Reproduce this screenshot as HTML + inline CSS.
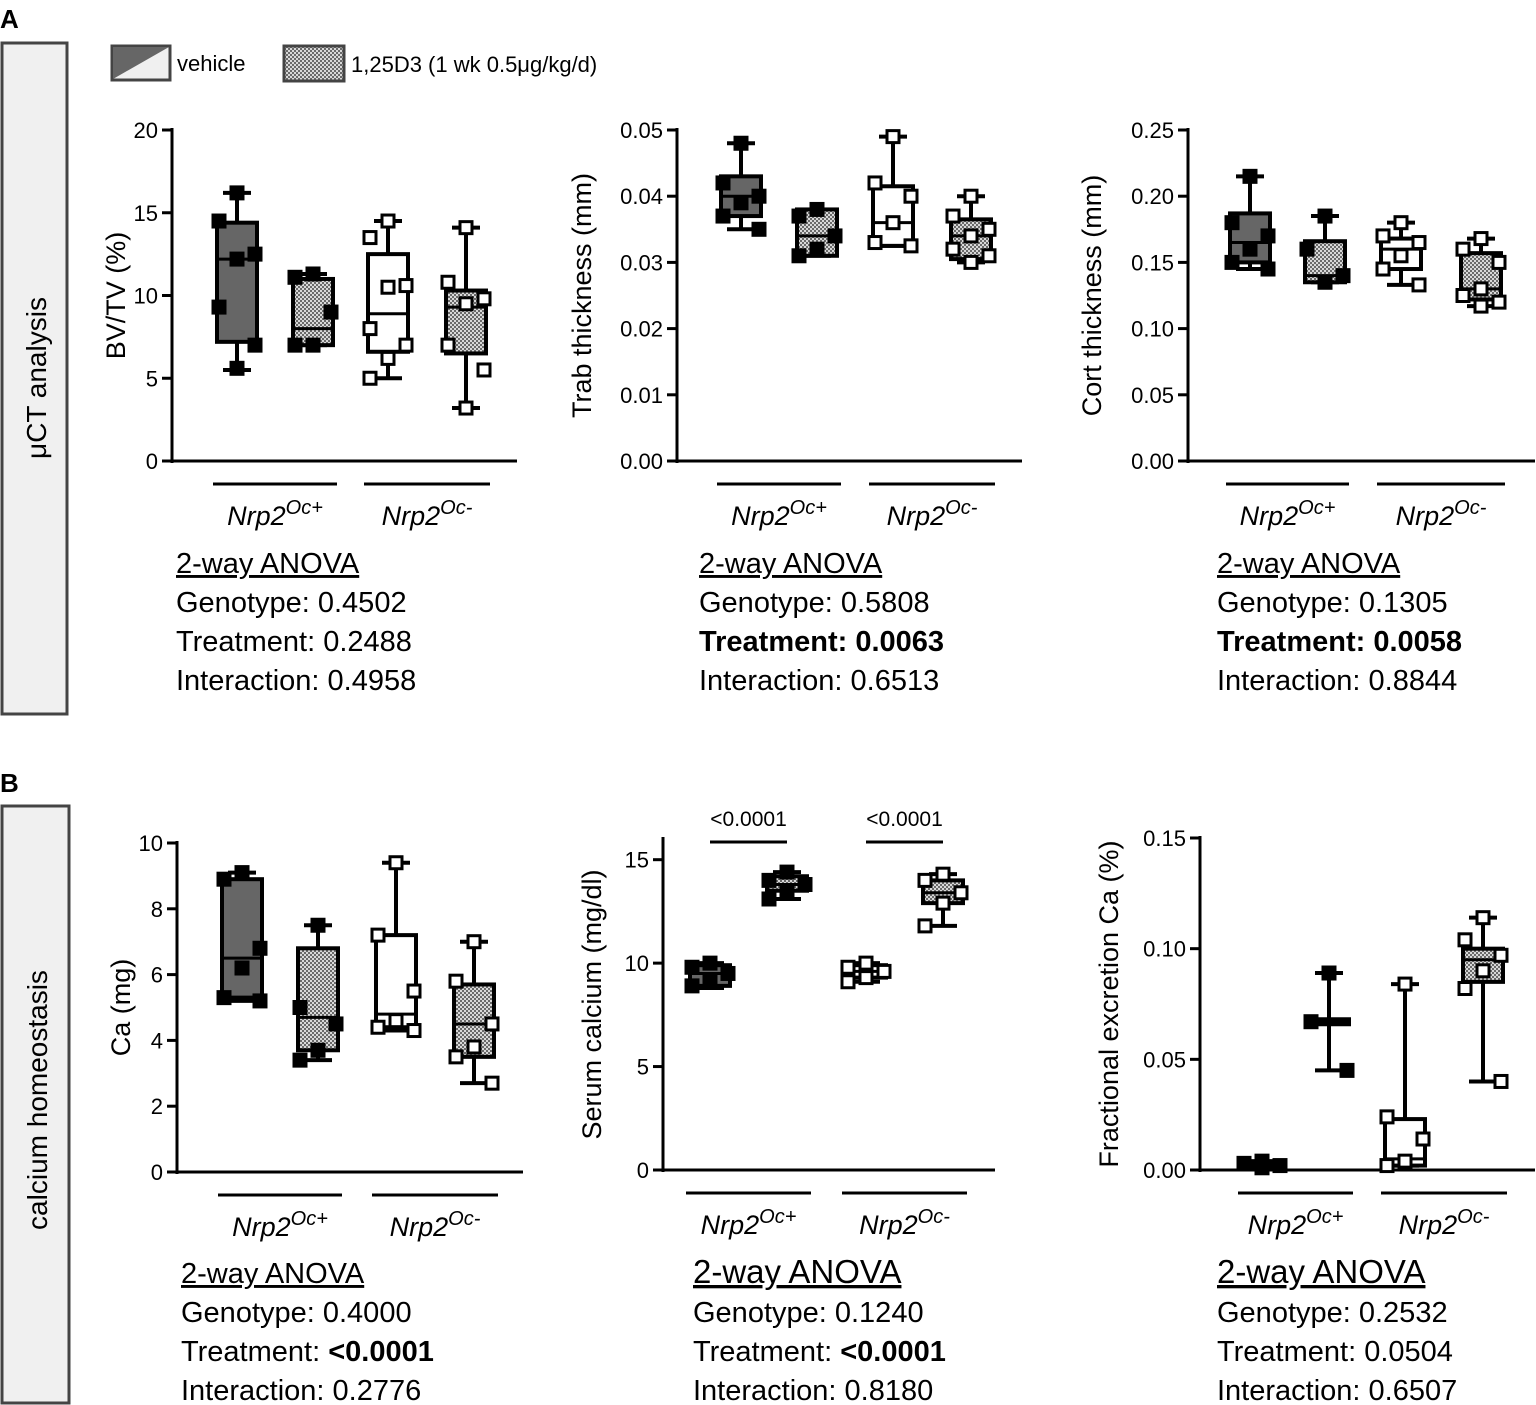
<!DOCTYPE html>
<html><head><meta charset="utf-8"><style>
html,body{margin:0;padding:0;background:#fff;}
svg{display:block;font-family:"Liberation Sans",sans-serif;}
</style></head><body>
<svg id="fig" width="1536" height="1405" viewBox="0 0 1536 1405" xmlns="http://www.w3.org/2000/svg">
<defs>
<pattern id="chk" width="4" height="4" patternUnits="userSpaceOnUse">
<rect width="4" height="4" fill="#d8d8d8"/><rect width="2" height="2" fill="#6a6a6a"/><rect x="2" y="2" width="2" height="2" fill="#6a6a6a"/>
</pattern>
</defs>
<text x="0" y="28" font-size="26" font-weight="bold">A</text>
<text x="0" y="792" font-size="26" font-weight="bold">B</text>
<rect x="2" y="43" width="65" height="671" fill="#f0f0f0" stroke="#444" stroke-width="3"/>
<text transform="translate(46,378) rotate(-90)" text-anchor="middle" font-size="28">μCT analysis</text>
<rect x="2" y="806" width="67" height="597" fill="#f0f0f0" stroke="#444" stroke-width="3"/>
<text transform="translate(47,1100) rotate(-90)" text-anchor="middle" font-size="28">calcium homeostasis</text>
<g>
<rect x="112" y="46" width="58" height="34" fill="#f0f0f0" stroke="#444" stroke-width="3"/>
<polygon points="113,79 113,47 169,47" fill="#666"/>
<text x="177" y="71" font-size="22">vehicle</text>
<rect x="284" y="46" width="60" height="35" fill="url(#chk)" stroke="#444" stroke-width="3"/>
<text x="351" y="72" font-size="22">1,25D3 (1 wk 0.5μg/kg/d)</text>
</g>
</svg>
<script>
// Panel data: [min, q1, median, q3, max] per group (Oc+ veh, Oc+ D3, Oc- veh, Oc- D3)
const groupsA1 = [[5.5,7.2,12.2,14.4,16.2],[7,7,8,11,11.3],[5,6.6,8.9,12.5,14.5],[3.2,6.5,9.3,10.3,14.1]];
const pointsA1 = [[16.2,14.5,12.5,12.2,9.3,7,5.6],[11.3,11.1,9,7,7],[14.5,13.5,10.6,10.5,8,7,6.2,5],[14.1,10.8,9.8,9.5,7,5.5,3.2]];
const ticksA1 = [0,5,10,15,20];
const groupsA2 = [[0.035,0.037,0.040,0.043,0.048],[0.031,0.031,0.034,0.038,0.038],[0.0325,0.0325,0.036,0.0415,0.049],[0.030,0.0305,0.034,0.0365,0.040]];
const pointsA2 = [[0.048,0.042,0.040,0.039,0.037,0.035],[0.038,0.037,0.034,0.032,0.031],[0.049,0.042,0.040,0.036,0.033,0.0325],[0.040,0.037,0.035,0.034,0.032,0.031,0.030]];
const ticksA2 = [0,0.01,0.02,0.03,0.04,0.05];
const groupsA3 = [[0.145,0.15,0.165,0.187,0.215],[0.135,0.135,0.14,0.166,0.185],[0.133,0.145,0.16,0.168,0.18],[0.117,0.122,0.13,0.157,0.168]];
const pointsA3 = [[0.215,0.18,0.17,0.16,0.15,0.145],[0.185,0.16,0.14,0.135],[0.18,0.17,0.165,0.155,0.145,0.133],[0.168,0.16,0.15,0.13,0.125,0.12,0.117]];
const ticksA3 = [0,0.05,0.10,0.15,0.20,0.25];
const groupsB1 = [[5.2,5.3,6.5,8.9,9.1],[3.4,3.7,4.7,6.8,7.5],[4.3,4.4,4.8,7.2,9.4],[2.7,3.5,4.5,5.7,7.0]];
const pointsB1 = [[9.1,8.9,6.8,6.2,5.3,5.2],[7.5,5,4.5,3.7,3.4],[9.4,7.2,5.5,4.6,4.4,4.3],[7.0,5.8,4.5,3.8,3.5,2.7]];
const ticksB1 = [0,2,4,6,8,10];
const groupsB2 = [[8.8,8.9,9.5,9.9,10.0],[13.1,13.5,13.8,14.2,14.4],[9.1,9.3,9.6,9.9,10.0],[11.8,12.9,13.4,14.0,14.3]];
const pointsB2 = [[10,9.8,9.5,9.2,8.9],[14.4,14.0,13.8,13.5,13.1],[10,9.8,9.6,9.3,9.1],[14.3,14.0,13.4,12.9,11.8]];
const ticksB2 = [0,5,10,15];
const groupsB3 = [[0.001,0.001,0.002,0.003,0.004],[0.045,0.067,0.067,0.067,0.089],[0.002,0.002,0.005,0.023,0.084],[0.040,0.085,0.095,0.10,0.114]];
const pointsB3 = [[0.004,0.003,0.002,0.001],[0.089,0.067,0.045],[0.084,0.024,0.014,0.004,0.002],[0.114,0.104,0.097,0.09,0.082,0.040]];
const ticksB3 = [0,0.05,0.10,0.15];
const tickLabelsB3 = ["0.00","0.05","0.10","0.15"];

const NS = "http://www.w3.org/2000/svg";
const svg = document.getElementById('fig');
function mk(tag, attrs, parent){
  const e = document.createElementNS(NS, tag);
  for (const k in attrs) e.setAttribute(k, attrs[k]);
  (parent||svg).appendChild(e);
  return e;
}
function panel(cfg){
  const g = mk('g', {});
  
  
  const y = v => cfg.y0 - (v - 0) / cfg.vmax * (cfg.y0 - cfg.ytop);
  const ya = mk('line', {x1:cfg.ax, y1:cfg.ytop-2, x2:cfg.ax, y2:cfg.y0+2, stroke:'#000','stroke-width':3}, g);
  
  
  const xa = mk('line', {x1:cfg.ax, y1:cfg.y0, x2:cfg.xend, y2:cfg.y0, stroke:'#000','stroke-width':3}, g);
  
  
  cfg.ticks.forEach((t,i)=>{
    mk('line', {x1:cfg.ax-10, y1:y(t), x2:cfg.ax, y2:y(t), stroke:'#000','stroke-width':3}, g);
    const tl = mk('text', {x:cfg.ax-14, y:y(t)+8, 'text-anchor':'end','font-size':22}, g);
    tl.textContent = cfg.tlabels ? cfg.tlabels[i] : String(t);
    
    
  });
  const yt = mk('text', {transform:`translate(${cfg.titleX},${(cfg.ytop+cfg.y0)/2}) rotate(-90)`, 'text-anchor':'middle','font-size':27}, g);
  yt.textContent = cfg.title;
  
  
  cfg.groups.forEach((d,i)=>{
    const cx = cfg.cx[i], w = 20;
    const fill = i===0 ? '#666' : (i===2 ? '#fff' : 'url(#chk)');
    const bg = mk('g', {}, g);
    
    
    mk('line', {x1:cx, y1:y(d[4]), x2:cx, y2:y(d[0]), stroke:'#000','stroke-width':4}, bg);
    mk('line', {x1:cx-14, y1:y(d[4]), x2:cx+14, y2:y(d[4]), stroke:'#000','stroke-width':4}, bg);
    mk('line', {x1:cx-14, y1:y(d[0]), x2:cx+14, y2:y(d[0]), stroke:'#000','stroke-width':4}, bg);
    const bh = Math.max(y(d[1]) - y(d[3]), 0);
    if (bh > 1) mk('rect', {x:cx-w, y:y(d[3]), width:2*w, height:bh, fill:fill, stroke:'#000','stroke-width':4}, bg);
    mk('line', {x1:cx-w-2, y1:y(d[2]), x2:cx+w+2, y2:y(d[2]), stroke:'#000','stroke-width': bh>1 ? 3 : 9}, bg);
    const pts = cfg.points[i];
    pts.forEach((p,j)=>{
      const ox = (j%3===0) ? 0 : (j%3===1 ? -w+2 : w-2);
      const open = i>=2;
      const r = mk('rect', {x:cx+ox-6, y:y(p)-6, width:12, height:12, fill: open ? '#fff' : '#000', stroke:'#000','stroke-width':3}, bg);
      
      
    });
  });
  [[0,1,'+'],[2,3,'-']].forEach(([a,b,s])=>{
    const x1 = cfg.cx[a]-24, x2 = cfg.cx[b]+24;
    mk('line', {x1:x1, y1:cfg.y0+23, x2:x2, y2:cfg.y0+23, stroke:'#000','stroke-width':3}, g);
    const t = mk('text', {x:(x1+x2)/2, y:cfg.y0+64, 'text-anchor':'middle','font-size':27,'font-style':'italic'}, g);
    t.innerHTML = 'Nrp2<tspan dy="-11" font-size="20">Oc'+s+'</tspan>';
    
    
  });
  const at = mk('g', {}, g);
  
  
  cfg.anova.forEach((l,k)=>{
    const t = mk('text', {x:cfg.anX, y:cfg.anY + k*39, 'font-size': (k===0? cfg.hsize : 29)}, at);
    if (k===0){ t.textContent = l; t.setAttribute('text-decoration','underline'); }
    else {
      const parts = l.split('|');
      t.innerHTML = parts[0] + (parts[1] ? '<tspan font-weight="bold">'+parts[1]+'</tspan>' : '');
      if (l.startsWith('*')) { t.innerHTML = parts[0].slice(1) + '<tspan font-weight="bold">'+parts[1]+'</tspan>'; t.setAttribute('font-weight','bold'); }
    }
  });
  return {g, y};
}
panel({name:'chart-bv-tv', ax:172, ytop:130, y0:461, vmax:20, xend:517, ticks:ticksA1, title:'BV/TV (%)', titleX:125,
  cx:[237,313,388,466], groups:groupsA1, points:pointsA1, anX:176, anY:573, hsize:29,
  anova:['2-way ANOVA','Genotype: 0.4502','Treatment: 0.2488','Interaction: 0.4958']});
panel({name:'chart-trab-thickness', ax:677, ytop:130, y0:461, vmax:0.05, xend:1022, ticks:ticksA2, tlabels:['0.00','0.01','0.02','0.03','0.04','0.05'], title:'Trab thickness (mm)', titleX:591,
  cx:[741,817,893,971], groups:groupsA2, points:pointsA2, anX:699, anY:573, hsize:29,
  anova:['2-way ANOVA','Genotype: 0.5808','*Treatment: |0.0063','Interaction: 0.6513']});
panel({name:'chart-cort-thickness', ax:1188, ytop:130, y0:461, vmax:0.25, xend:1535, ticks:ticksA3, tlabels:['0.00','0.05','0.10','0.15','0.20','0.25'], title:'Cort thickness (mm)', titleX:1101,
  cx:[1250,1325,1401,1481], groups:groupsA3, points:pointsA3, anX:1217, anY:573, hsize:29,
  anova:['2-way ANOVA','Genotype: 0.1305','*Treatment: |0.0058','Interaction: 0.8844']});
panel({name:'chart-ca-mg', ax:177, ytop:843, y0:1172, vmax:10, xend:523, ticks:ticksB1, title:'Ca (mg)', titleX:130,
  cx:[242,318,396,474], groups:groupsB1, points:pointsB1, anX:181, anY:1283, hsize:29,
  anova:['2-way ANOVA','Genotype: 0.4000','Treatment: |<0.0001','Interaction: 0.2776']});
const b2 = panel({name:'chart-serum-calcium', ax:663, ytop:839, y0:1170, vmax:16, xend:995, ticks:ticksB2, title:'Serum calcium (mg/dl)', titleX:601,
  cx:[710,787,866,943], groups:groupsB2, points:pointsB2, anX:693, anY:1283, hsize:33,
  anova:['2-way ANOVA','Genotype: 0.1240','Treatment: |<0.0001','Interaction: 0.8180']});
[[710,787],[866,943]].forEach(([a,b])=>{
  mk('line', {x1:a, y1:842, x2:b, y2:842, stroke:'#000','stroke-width':3}, b2.g);
  const t = mk('text', {x:(a+b)/2, y:826, 'text-anchor':'middle','font-size':21}, b2.g);
  t.textContent = '<0.0001';
  
  
});
panel({name:'chart-fractional-excretion', ax:1200, ytop:838, y0:1170, vmax:0.15, xend:1535, ticks:ticksB3, tlabels:tickLabelsB3, title:'Fractional excretion Ca (%)', titleX:1118,
  cx:[1262,1329,1405,1483], groups:groupsB3, points:pointsB3, anX:1217, anY:1283, hsize:33,
  anova:['2-way ANOVA','Genotype: 0.2532','Treatment: 0.0504','Interaction: 0.6507']});
</script>
</body></html>
